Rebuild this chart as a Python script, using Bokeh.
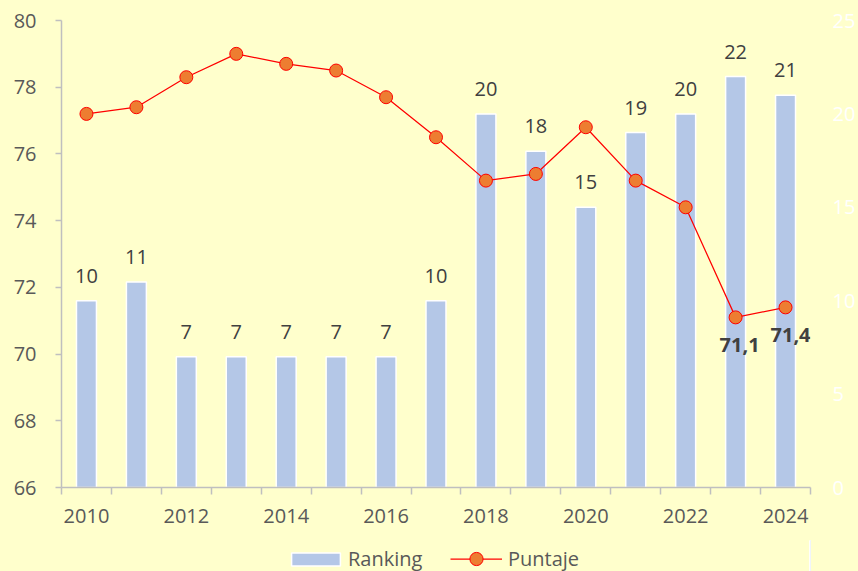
from bokeh.plotting import figure
from bokeh.layouts import column
from bokeh.models import (ColumnDataSource, Range1d, LinearAxis, FixedTicker,
                          Legend, LegendItem)
from bokeh.core.properties import value
from bokeh.embed import file_html
from bokeh.resources import INLINE

# ---- data ----
years = [2010, 2011, 2012, 2013, 2014, 2015, 2016, 2017,
         2018, 2019, 2020, 2021, 2022, 2023, 2024]
ranking = [10, 11, 7, 7, 7, 7, 7, 10, 20, 18, 15, 19, 20, 22, 21]
puntaje = [77.2, 77.4, 78.3, 79.0, 78.7, 78.5, 77.7, 76.5,
           75.2, 75.4, 76.8, 75.2, 74.4, 71.1, 71.4]
labeled_years = [2023, 2024]
x_tick_labels = [2010, 2012, 2014, 2016, 2018, 2020, 2022, 2024]
left_ticks = [66, 68, 70, 72, 74, 76, 78, 80]
right_ticks = [0, 5, 10, 15, 20, 25]

FONT = "Open Sans"
BG = "#FFFFCC"
BAR = dict(fill_color="#B4C7E7", line_color="white", line_width=1.5)
LINE = dict(line_color="#FF0000", line_width=1.25)
MARK = dict(marker="circle", size=13, fill_color="#ED7D31",
            line_color="#FF0000", line_width=1)

p = figure(width=858, height=540, output_backend="svg", toolbar_location=None,
           x_range=Range1d(years[0] - 0.5, years[-1] + 0.5),
           y_range=Range1d(left_ticks[0], left_ticks[-1]),
           min_border_left=61, min_border_right=47,
           min_border_top=20, min_border_bottom=53,
           styles={"background-color": BG})
p.extra_y_ranges = {"right": Range1d(right_ticks[0], right_ticks[-1])}
p.background_fill_color = BG
p.border_fill_color = BG
p.outline_line_color = None
p.xgrid.visible = False
p.ygrid.visible = False

# x axis
xa = p.xaxis[0]
xa.ticker = FixedTicker(ticks=x_tick_labels,
                        minor_ticks=[y - 0.5 for y in years] + [years[-1] + 0.5])
xa.axis_line_color = "#BFBFBF"
xa.axis_line_width = 1.5
xa.major_tick_line_color = None
xa.major_tick_out = 0
xa.major_tick_in = 0
xa.minor_tick_line_color = "#BFBFBF"
xa.minor_tick_line_width = 1.5
xa.minor_tick_out = 7
xa.minor_tick_in = 0
xa.major_label_text_font = FONT
xa.major_label_text_font_size = "20px"
xa.major_label_text_color = "#595959"
xa.major_label_standoff = 14

# left axis
ya = p.yaxis[0]
ya.ticker = FixedTicker(ticks=left_ticks)
ya.axis_line_color = "#BFBFBF"
ya.axis_line_width = 1.5
ya.major_tick_line_color = "#BFBFBF"
ya.major_tick_line_width = 1.5
ya.major_tick_out = 6
ya.major_tick_in = 0
ya.minor_tick_line_color = None
ya.major_label_text_font = FONT
ya.major_label_text_font_size = "20px"
ya.major_label_text_color = "#595959"
ya.major_label_standoff = 19

# right axis
ra = LinearAxis(y_range_name="right", ticker=FixedTicker(ticks=right_ticks))
ra.axis_line_color = None
ra.major_tick_line_color = None
ra.minor_tick_line_color = None
ra.major_tick_out = 0
ra.major_label_text_font = FONT
ra.major_label_text_font_size = "20px"
ra.major_label_text_color = "#FFFFFF"
ra.major_label_standoff = 22
p.add_layout(ra, "right")

# bars
bar_src = ColumnDataSource(dict(x=years, top=ranking,
                                label=[str(v) for v in ranking]))
p.vbar(x="x", top="top", width=0.4, bottom=0, source=bar_src,
       y_range_name="right", **BAR)
p.text(x="x", y="top", text="label", source=bar_src, y_range_name="right",
       text_align="center", text_baseline="middle", y_offset=-25,
       text_font=value(FONT), text_font_size="20px", text_color="#404040")

# line
line_src = ColumnDataSource(dict(x=years, y=puntaje))
p.line(x="x", y="y", source=line_src, **LINE)
p.scatter(x="x", y="y", source=line_src, **MARK)

idx = [years.index(y) for y in labeled_years]
lab_src = ColumnDataSource(dict(
    x=[years[i] for i in idx],
    y=[puntaje[i] for i in idx],
    label=[f"{puntaje[i]:.1f}".replace(".", ",") for i in idx],
    dx=[4, 5]))
p.text(x="x", y="y", text="label", source=lab_src, x_offset="dx", y_offset=28,
       text_align="center", text_baseline="middle",
       text_font=value(FONT), text_font_size="20px", text_font_style="bold",
       text_color="#404040")

# legend strip (separate figure so the legend is not clipped by the frame);
# its renderers use the same data but lie outside its (empty) ranges
lf = figure(width=858, height=31, output_backend="svg", toolbar_location=None,
            x_range=Range1d(0, 1), y_range=Range1d(0, 1),
            x_axis_type=None, y_axis_type=None, min_border=0,
            styles={"background-color": BG})
lf.background_fill_color = None
lf.border_fill_color = None
lf.outline_line_color = None
lf.xgrid.visible = False
lf.ygrid.visible = False
rb = lf.vbar(x="x", top="top", width=0.4, source=bar_src, **BAR)
rl = lf.line(x="x", y="y", source=line_src, **LINE)
rm = lf.scatter(x="x", y="y", source=line_src, **MARK)

LEG = dict(orientation="horizontal", padding=0, margin=0,
           background_fill_alpha=0, border_line_color=None,
           label_text_font=FONT, label_text_font_size="20px",
           label_text_color="#595959")
leg_a = Legend(items=[LegendItem(label="Ranking", renderers=[rb])],
               location=(224, -1), glyph_width=61, glyph_height=16,
               label_standoff=2, **LEG)
leg_b = Legend(items=[LegendItem(label="Puntaje", renderers=[rl, rm])],
               location=(389, -4), glyph_width=52, glyph_height=33,
               label_standoff=6, **LEG)
lf.add_layout(leg_a)
lf.add_layout(leg_b)

layout = column(p, lf, spacing=0, styles={"background-color": BG})
open("out.html", "w").write(file_html(layout, INLINE))
